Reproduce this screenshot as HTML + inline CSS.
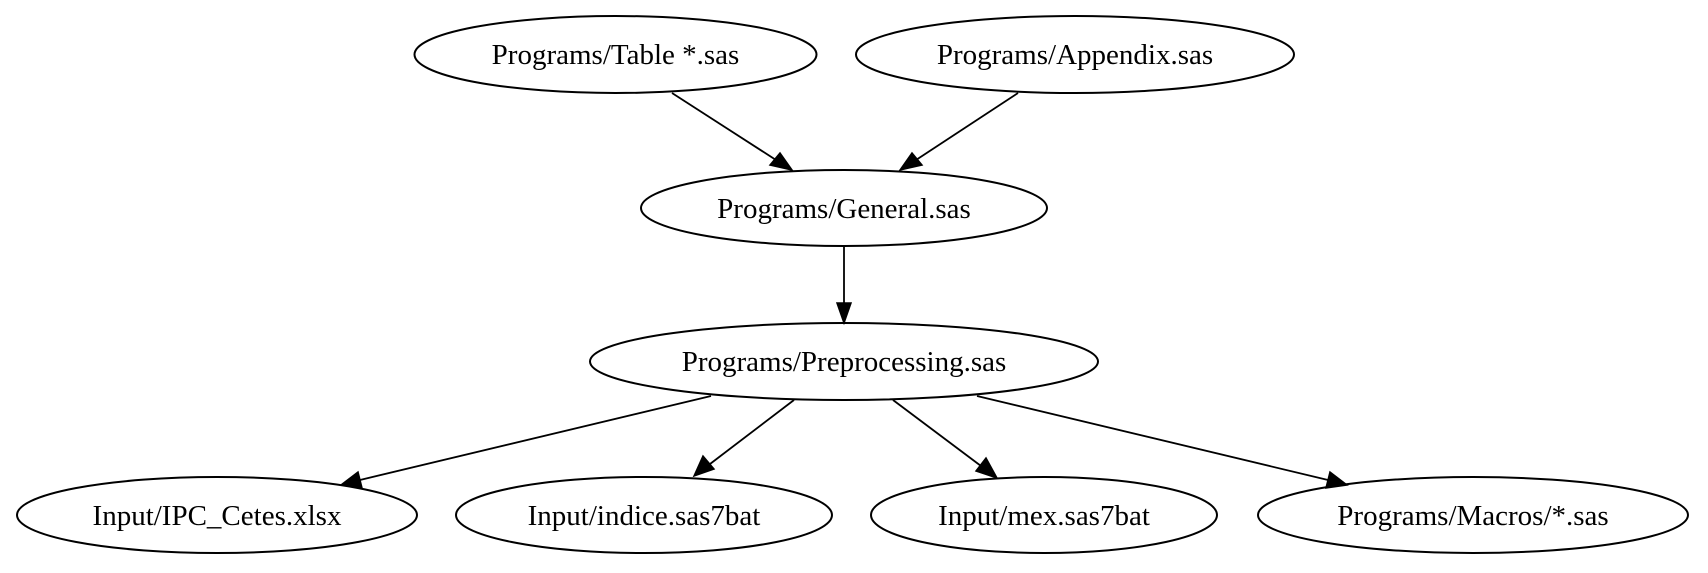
<!DOCTYPE html>
<html><head><style>html,body{margin:0;padding:0;background:#fff}</style></head>
<body>
<svg width="1708" height="568" viewBox="0 0 1708 568" xmlns="http://www.w3.org/2000/svg">
<g fill="none" stroke="#000" stroke-width="2">
<ellipse cx="615.5" cy="54.5" rx="201" ry="38.5"/>
<ellipse cx="1075" cy="54.5" rx="219" ry="38.5"/>
<ellipse cx="844" cy="208" rx="203" ry="38"/>
<ellipse cx="844" cy="361.5" rx="254" ry="38.5"/>
<ellipse cx="217" cy="515" rx="200" ry="38"/>
<ellipse cx="644" cy="515" rx="188" ry="38"/>
<ellipse cx="1044" cy="515" rx="173" ry="38"/>
<ellipse cx="1473" cy="515" rx="215" ry="38"/>
<g stroke-width="1.8">
<line x1="672" y1="93" x2="776" y2="160"/>
<line x1="1018" y1="93" x2="916" y2="160"/>
<line x1="844" y1="246" x2="844" y2="305"/>
<line x1="711" y1="396" x2="360" y2="480"/>
<line x1="794" y1="400" x2="710" y2="464"/>
<line x1="893" y1="400" x2="981" y2="466"/>
<line x1="977" y1="396" x2="1328" y2="480"/>
</g>
</g>
<g fill="#000" stroke="#000" stroke-width="1.5">
<polygon points="792,170 770,165 780,153"/>
<polygon points="900,170 912,153 922,165"/>
<polygon points="844,323 837,303 851,303"/>
<polygon points="341,485 358,472 362,488"/>
<polygon points="694,476 703,456 714,469"/>
<polygon points="997,478 976,471 986,458"/>
<polygon points="1347,485 1326,488 1330,472"/>
</g>
<g font-family="'Liberation Serif', serif" font-size="29" text-anchor="middle" fill="#000">
<text x="615.5" y="64">Programs/Table *.sas</text>
<text x="1075" y="64">Programs/Appendix.sas</text>
<text x="844" y="218">Programs/General.sas</text>
<text x="844" y="371">Programs/Preprocessing.sas</text>
<text x="217" y="525">Input/IPC_Cetes.xlsx</text>
<text x="644" y="525">Input/indice.sas7bat</text>
<text x="1044" y="525">Input/mex.sas7bat</text>
<text x="1473" y="525">Programs/Macros/*.sas</text>
</g>
</svg>
</body></html>
